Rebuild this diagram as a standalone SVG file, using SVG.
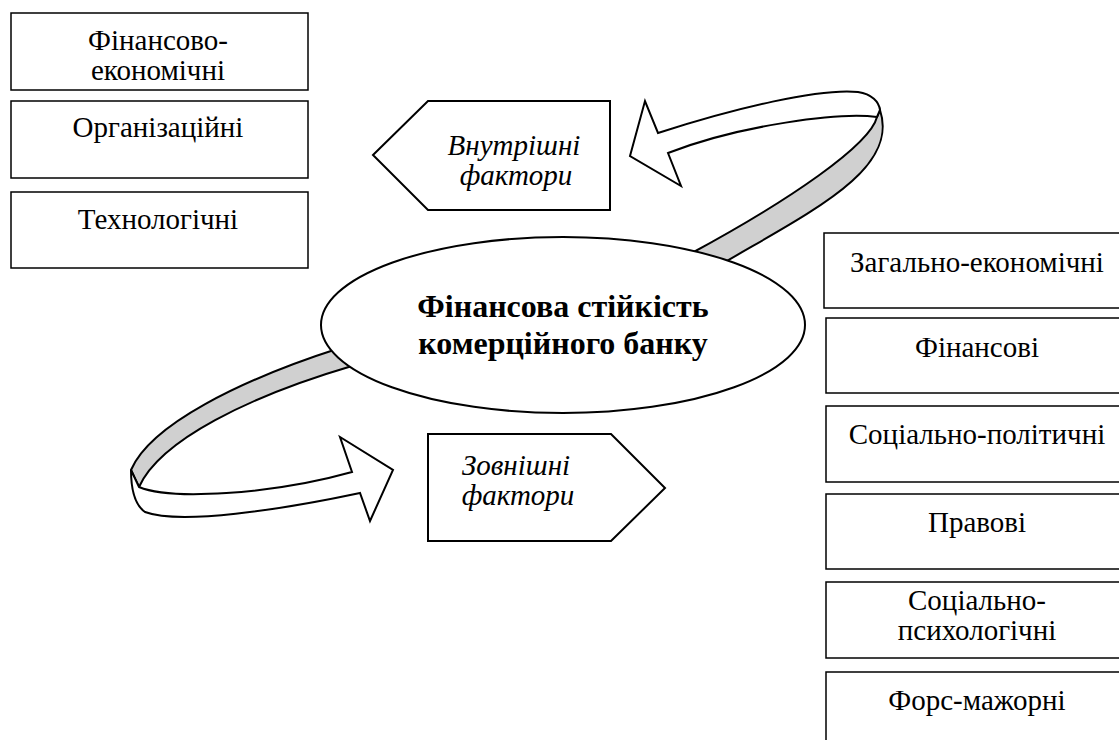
<svg xmlns="http://www.w3.org/2000/svg" width="1119" height="740" viewBox="0 0 1119 740">
<style>
.box{fill:#fff;stroke:#000;stroke-width:1.5}
.t{font-family:"Liberation Serif","Times New Roman","DejaVu Serif",serif;font-size:29px;fill:#000;text-anchor:middle}
.i{font-style:italic}
.b{font-weight:bold;font-size:32px}
.rib{stroke:#000;stroke-width:2;stroke-linejoin:miter}
.w{fill:#fff}
.g{fill:#d0d0d0}
</style>
<rect width="1119" height="740" fill="#fff"/>
<g id="connectors">
<g id="arrow-internal">
<path class="rib g" d="M877,117 C870,145 790,200 690,254 L720,265 C810,212 900,170 880,110 Z"/>
<path class="rib w" d="M668,153 L681,186 L630,156 L645,101 L658,133 C735,108 820,88 858,92 C872,94 879,102 880,110 L877,117 C840,112 740,125 668,153 Z"/>
</g>
<g id="arrow-external">
<path class="rib g" d="M340,348 C240,380 150,425 131,470 L139,487 C160,440 250,396 352,366 Z"/>
<path class="rib w" d="M139,487 C170,500 270,495 352,472 L340,437 L393,470 L370,521 L360,493 C280,510 180,525 145,512 C135,505 131,490 131,470 Z"/>
</g>
</g>
<g id="center">
<ellipse cx="563" cy="325" rx="242" ry="88" fill="#fff" stroke="#000" stroke-width="2"/>
<text class="t b" x="563" y="317">Фінансова стійкість<tspan x="563" y="354">комерційного банку</tspan></text>
</g>
<g id="internal">
<path d="M373,155 L428,101 L610,101 L610,210 L428,210 Z" fill="#fff" stroke="#000" stroke-width="2"/>
<text class="t i" x="514" y="155">Внутрішні<tspan x="516" y="185">фактори</tspan></text>
</g>
<g id="external">
<path d="M428,434 L611,434 L665,488 L611,541 L428,541 Z" fill="#fff" stroke="#000" stroke-width="2"/>
<text class="t i" x="516" y="475">Зовнішні<tspan x="518" y="505">фактори</tspan></text>
</g>
<g id="l1"><rect class="box" x="11" y="13" width="297" height="77"/><text class="t" x="158" y="50">Фінансово-<tspan x="158" y="80">економічні</tspan></text></g>
<g id="l2"><rect class="box" x="11" y="101" width="297" height="77"/><text class="t" x="158" y="137">Організаційні</text></g>
<g id="l3"><rect class="box" x="11" y="192" width="297" height="76"/><text class="t" x="158" y="229">Технологічні</text></g>
<g id="r1"><rect class="box" x="824" y="233" width="310" height="75"/><text class="t" x="977" y="272">Загально-економічні</text></g>
<g id="r2"><rect class="box" x="826" y="318" width="310" height="75"/><text class="t" x="977" y="357">Фінансові</text></g>
<g id="r3"><rect class="box" x="826" y="406" width="310" height="76"/><text class="t" x="977" y="444">Соціально-політичні</text></g>
<g id="r4"><rect class="box" x="826" y="494" width="310" height="75"/><text class="t" x="977" y="532">Правові</text></g>
<g id="r5"><rect class="box" x="826" y="582" width="310" height="76"/><text class="t" x="977" y="610">Соціально-<tspan x="977" y="640">психологічні</tspan></text></g>
<g id="r6"><rect class="box" x="826" y="672" width="310" height="80"/><text class="t" x="977" y="710">Форс-мажорні</text></g>
</svg>
